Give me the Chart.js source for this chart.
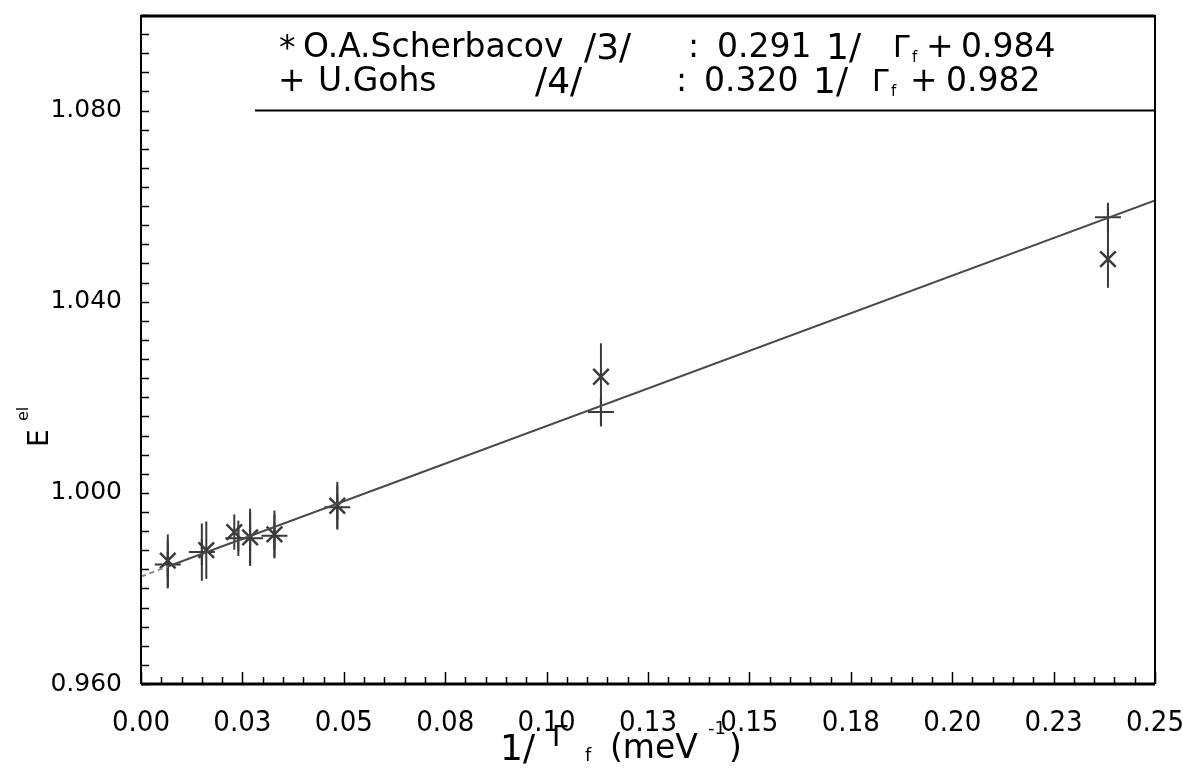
<!DOCTYPE html>
<html>
<head>
<meta charset="utf-8">
<script src="https://cdn.jsdelivr.net/npm/chart.js@4.4.1/dist/chart.umd.min.js"></script>
<style>
  body { margin: 0; background: #fff; }
  #wrap { width: 1183px; height: 768px; }
</style>
</head>
<body>
<div id="wrap"><canvas id="chart" width="1183" height="768"></canvas></div>
<script>
// axis ticks
const xTickValues = [0, 0.025, 0.05, 0.075, 0.1, 0.125, 0.15, 0.175, 0.2, 0.225, 0.25];
const xTickLabels = ['0.00', '0.03', '0.05', '0.08', '0.10', '0.13', '0.15', '0.18', '0.20', '0.23', '0.25'];
const yTickValues = [0.96, 1.00, 1.04, 1.08];
const yTickLabels = ['0.960', '1.000', '1.040', '1.080'];

// O.A.Scherbacov /3/  (*)
const scherX = [0.0066, 0.0161, 0.0230, 0.0269, 0.0329, 0.0484, 0.1134, 0.2384];
const scherY = [0.9858, 0.9880, 0.9918, 0.9907, 0.9913, 0.9973, 1.0243, 1.0489];
const scherErr = [0.0055, 0.0060, 0.0037, 0.0060, 0.0050, 0.0050, 0.0070, 0.0060];

// U.Gohs /4/  (+)
const gohsX = [0.0066, 0.0150, 0.0240, 0.0269, 0.0329, 0.0484, 0.1134, 0.2384];
const gohsY = [0.9850, 0.9876, 0.9905, 0.9905, 0.9910, 0.9970, 1.0169, 1.0577];
const gohsErr = [0.0050, 0.0060, 0.0037, 0.0055, 0.0045, 0.0045, 0.0030, 0.0030];

// fitted line
const fitX = [0, 0.0066, 0.25];
const fitY = [0.9825, 0.9846, 1.0612];

const ink = '#3a3a3a';
const toPts = (xs, ys) => xs.map((x, i) => ({ x: x, y: ys[i] }));

// error bars drawn through the scales
const errorBars = {
  id: 'errorBars',
  beforeDatasetsDraw(chart) {
    const { ctx, scales: { x, y } } = chart;
    ctx.save();
    ctx.beginPath();
    ctx.rect(chart.chartArea.left, chart.chartArea.top, chart.chartArea.width, chart.chartArea.height);
    ctx.clip();
    chart.data.datasets.forEach(ds => {
      if (!ds.errors) return;
      ctx.strokeStyle = ink;
      ctx.lineWidth = 2;
      ds.data.forEach((p, i) => {
        const px = x.getPixelForValue(p.x);
        ctx.beginPath();
        ctx.moveTo(px, y.getPixelForValue(p.y - ds.errors[i]));
        ctx.lineTo(px, y.getPixelForValue(p.y + ds.errors[i]));
        ctx.stroke();
      });
    });
    ctx.restore();
  }
};

// frame, inward minor ticks, legend box and axis titles
const frame = {
  id: 'frame',
  afterDraw(chart) {
    const { ctx, chartArea: a, scales: { x, y } } = chart;
    ctx.save();
    ctx.strokeStyle = '#000';
    ctx.lineWidth = 1.5;
    // minor ticks on x axis, every 0.005
    for (let i = 0; i <= 50; i++) {
      const px = Math.round(x.getPixelForValue(i * 0.005)) + 0.5;
      const len = i % 5 === 0 ? 12 : 7;
      ctx.beginPath();
      ctx.moveTo(px, a.bottom);
      ctx.lineTo(px, a.bottom - len);
      ctx.stroke();
    }
    // minor ticks on y axis, every 0.004
    for (let i = 0; i <= 35; i++) {
      const py = Math.round(y.getPixelForValue(0.96 + i * 0.004)) + 0.5;
      ctx.beginPath();
      ctx.moveTo(a.left, py);
      ctx.lineTo(a.left + 8, py);
      ctx.stroke();
    }
    // box
    ctx.lineWidth = 2;
    ctx.beginPath();
    ctx.moveTo(a.left, a.top);
    ctx.lineTo(a.left, a.bottom);
    ctx.moveTo(a.right, a.top);
    ctx.lineTo(a.right, a.bottom);
    ctx.stroke();
    ctx.lineWidth = 3;
    ctx.beginPath();
    ctx.moveTo(a.left, a.top + 1);
    ctx.lineTo(a.right, a.top + 1);
    ctx.moveTo(a.left, a.bottom);
    ctx.lineTo(a.right, a.bottom);
    ctx.stroke();
    // legend box bottom line at 1.080
    const ly = y.getPixelForValue(1.08);
    ctx.lineWidth = 2;
    ctx.beginPath();
    ctx.moveTo(a.left + 114, ly);
    ctx.lineTo(a.right, ly);
    ctx.stroke();

    // legend text
    ctx.fillStyle = '#000';
    ctx.textBaseline = 'alphabetic';
    const F = 'DejaVu Sans, sans-serif';
    const put = (t, px, py, size) => {
      ctx.font = size + 'px ' + F;
      ctx.fillText(t, px, py);
    };
    const b1 = 57, b2 = 91;
    put('*', 279, b1 + 2, 33);
    put('O.A.Scherbacov', 303, b1, 33);
    put('/3/', 584, b1 + 2, 36);
    put(':', 688, b1, 33);
    put('0.291', 717, b1, 33);
    put('1/', 826, b1 + 2, 36);
    put('\u0393', 893, b1, 30);
    put('f', 912, b1 + 5, 15);
    put('+', 926, b1, 33);
    put('0.984', 961, b1, 33);

    put('+', 278, b2, 33);
    put('U.Gohs', 318, b2, 33);
    put('/4/', 535, b2 + 2, 36);
    put(':', 676, b2, 33);
    put('0.320', 704, b2, 33);
    put('1/', 813, b2 + 2, 36);
    put('\u0393', 872, b2, 30);
    put('f', 891, b2 + 5, 15);
    put('+', 910, b2, 33);
    put('0.982', 946, b2, 33);

    // x axis title: 1/ Γf (meV^-1)
    put('1/', 500, 760, 36);
    put('\u0393', 552, 746, 28);
    put('f', 585, 761, 18);
    put('(meV', 610, 758, 33);
    put('-1', 708, 734, 18);
    put(')', 729, 758, 33);

    // y axis title: E^el, rotated
    ctx.translate(48, 447);
    ctx.rotate(-Math.PI / 2);
    put('E', 0, 0, 28);
    put('el', 26, -20, 16);
    ctx.restore();
  }
};

new Chart(document.getElementById('chart').getContext('2d'), {
  type: 'scatter',
  data: {
    datasets: [
      {
        label: 'fit',
        data: toPts(fitX, fitY),
        showLine: true,
        borderColor: '#4a4a4a',
        borderWidth: 2,
        pointRadius: 0,
        segment: {
          borderDash: c => c.p0DataIndex === 0 ? [5, 4] : undefined,
          borderColor: c => c.p0DataIndex === 0 ? '#888' : undefined
        }
      },
      {
        label: 'O.A.Scherbacov',
        data: toPts(scherX, scherY),
        errors: scherErr,
        pointStyle: 'crossRot',
        pointRadius: 11,
        pointBorderColor: ink,
        pointBorderWidth: 2.5,
        showLine: false
      },
      {
        label: 'U.Gohs',
        data: toPts(gohsX, gohsY),
        errors: gohsErr,
        pointStyle: 'cross',
        pointRadius: 13,
        pointBorderColor: ink,
        pointBorderWidth: 2,
        showLine: false
      }
    ]
  },
  options: {
    responsive: false,
    animation: false,
    devicePixelRatio: 1,
    layout: { padding: { left: 0, right: 28, top: 12, bottom: 0 } },
    plugins: { legend: { display: false }, tooltip: { enabled: false } },
    scales: {
      x: {
        type: 'linear',
        min: 0,
        max: 0.25,
        afterBuildTicks: s => { s.ticks = xTickValues.map(v => ({ value: v })); },
        afterFit: s => { s.height = 84; s.paddingLeft = 0; s.paddingRight = 0; },
        grid: { display: false, drawTicks: false },
        border: { display: false },
        ticks: {
          autoSkip: false,
          maxRotation: 0,
          padding: 22,
          color: '#000',
          font: { family: 'Liberation Sans Narrow, DejaVu Sans Condensed, sans-serif', size: 29 },
          callback: (v, i) => xTickLabels[i]
        }
      },
      y: {
        type: 'linear',
        min: 0.96,
        max: 1.10,
        afterBuildTicks: s => { s.ticks = yTickValues.map(v => ({ value: v })); },
        afterFit: s => { s.width = 141; s.paddingTop = 0; s.paddingBottom = 0; },
        grid: { display: false, drawTicks: false },
        border: { display: false },
        ticks: {
          padding: 19,
          color: '#000',
          font: { family: 'DejaVu Sans, sans-serif', size: 25 },
          callback: (v, i) => yTickLabels[i]
        }
      }
    }
  },
  plugins: [errorBars, frame]
});
</script>
</body>
</html>
